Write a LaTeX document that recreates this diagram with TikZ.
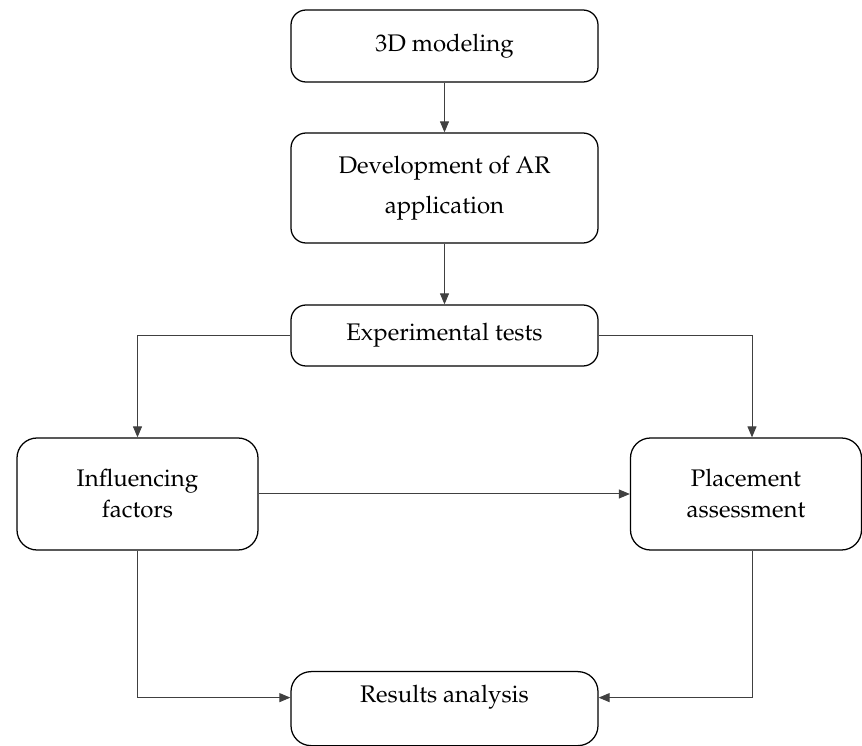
\documentclass[tikz,border=0pt]{standalone}
\usepackage[T1]{fontenc}
\usepackage{mathpazo}
\usetikzlibrary{arrows.meta}
\begin{document}
\begin{tikzpicture}
[x=0.4pt, y=-0.4pt, font=\fontsize{9.6}{12.4}\selectfont, >={Triangle[length=4.4pt,width=3.6pt]}]
\tikzstyle{box}=[draw, rounded corners=6pt, line width=0.5pt, align=center, inner sep=0pt, minimum width=122.8pt]
\tikzstyle{link}=[->, draw=black!75, line width=0.4pt]
\useasboundingbox (0,0) rectangle (862,746);
\node[box, minimum height=28.8pt]	(M3D)	at (444.5,46)		{3D modeling};
\node[box, minimum height=44pt]		(Dev)	at (444.5,188)		{Development of AR\\[3.6pt]application};
\node[box, minimum height=24.4pt]	(Exp)	at (444.5,335.5)	{Experimental tests};
\node[box, rounded corners=8pt, minimum width=96.4pt, minimum height=44.8pt]	(Inf)	at (137.5,494)	{Influencing\\factors};
\node[box, rounded corners=8pt, minimum width=92.4pt, minimum height=44.8pt]	(Pla)	at (746,494)	{Placement\\assessment};
\node[box, rounded corners=8pt, anchor=north, text height=12.4pt, text depth=17.2pt]	(Res)	at (444.5,671)	{Results analysis};

\draw[link] (M3D) -- (Dev);
\draw[link] (Dev) -- (Exp);
\draw[link] (Exp.west) -| (Inf.north);
\draw[link] (Exp.east) -| ([xshift=2.4pt]Pla.north);
\draw[link] (Inf) -- (Pla);
\draw[link] (Inf.south) |- ([yshift=4.4pt]Res.west);
\draw[link] ([xshift=2.4pt]Pla.south) |- ([yshift=4.4pt]Res.east);
\end{tikzpicture}
\end{document}
